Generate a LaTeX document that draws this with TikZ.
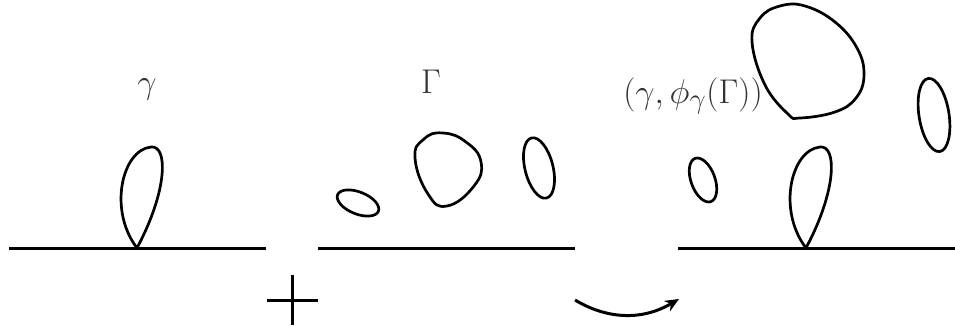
\documentclass[tikz,border=0pt]{standalone}
\usepackage{graphicx}
\usetikzlibrary{arrows.meta}
\newcommand{\biglbl}[1]{\scalebox{1.38}{\Huge #1}}
\begin{document}
\begin{tikzpicture}[x=1pt,y=-1pt,
  curve/.style={line width=2.7pt, line join=round},
  baseline/.style={line width=3pt},
  lbl/.style={text=black!80, inner sep=0pt, anchor=base}]
\useasboundingbox (0,0) rectangle (955,326);
% baselines
\draw[baseline] (9,248) -- (266,248);
\draw[baseline] (318,248) -- (575,248);
\draw[baseline] (678,248) -- (955,248);
% labels
\node[lbl] (lg) at (147,94) {\biglbl{$\gamma$}};
\node[lbl] (lG) at (431,94) {\biglbl{$\Gamma$}};
\node[lbl] (lp) at (693,103) {\biglbl{$(\gamma,\phi_\gamma(\Gamma))$}};
% petal left
\draw[curve] (137,248) .. controls (108,210) and (122,150) .. (151,147)
  .. controls (168,145) and (168,190) .. (137,248);
% petal right
\draw[curve] (806,248) .. controls (777,210) and (791,150) .. (820,147)
  .. controls (837,145) and (837,190) .. (806,248);
% Gamma panel loops
\draw[curve] (358,203) ellipse[x radius=22, y radius=11, rotate=-22];
\draw[curve] plot[smooth cycle, tension=0.8] coordinates {(415,158) (424,139) (443,133) (466,142) (481,162) (474,186) (447,206) (428,194)};
\draw[curve] (539,168) ellipse[x radius=31, y radius=14, rotate=-76];
% right panel loops
\draw[curve] (703,180) ellipse[x radius=23, y radius=12, rotate=-70];
\draw[curve] (934,115) ellipse[x radius=37, y radius=15, rotate=-81];
\draw[curve] plot[smooth cycle, tension=0.7] coordinates {(752,42) (760,18) (780,6) (805,6) (835,22) (857,48) (864,75) (856,98) (835,112) (800,118) (788,114) (765,85)};
% plus
\draw[line width=3pt] (267,300) -- (318,300);
\draw[line width=3pt] (292,275) -- (292,325);
% arrow
\coordinate (a1) at (575,300);
\coordinate (a2) at (679,299);
\draw[line width=3pt, -{Stealth[length=14pt,width=12pt]}] (a1) .. controls (605,318) and (640,322) .. (a2);
\end{tikzpicture}
\end{document}
